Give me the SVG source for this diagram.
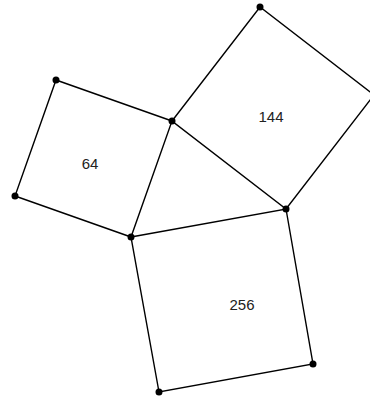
<svg xmlns="http://www.w3.org/2000/svg" width="370" height="398" viewBox="0 0 370 398">
<style>
.sq{fill:none;stroke:#000;stroke-width:1.4}
.pt{fill:#000}
.lbl{font-family:"Liberation Sans",Arial,sans-serif;font-size:15px;fill:#222;text-anchor:middle}
</style>
<rect width="370" height="398" fill="#fff"/>
<g id="square64">
<polygon class="sq" points="172,121 56,80 15,196 131,237"/>
<text class="lbl" x="90" y="169">64</text>
</g>
<g id="square144">
<polygon class="sq" points="172,121 260,7 374,95 286,209"/>
<text class="lbl" x="271" y="122">144</text>
</g>
<g id="square256">
<polygon class="sq" points="131,237 286,209 313,364 159,392"/>
<text class="lbl" x="242" y="310">256</text>
</g>
<g id="connectors">
<circle class="pt" cx="172" cy="121" r="3.5"/>
<circle class="pt" cx="131" cy="237" r="3.5"/>
<circle class="pt" cx="286" cy="209" r="3.5"/>
<circle class="pt" cx="56" cy="80" r="3.5"/>
<circle class="pt" cx="15" cy="196" r="3.5"/>
<circle class="pt" cx="260" cy="7" r="3.5"/>
<circle class="pt" cx="313" cy="364" r="3.5"/>
<circle class="pt" cx="159" cy="392" r="3.5"/>
</g>
</svg>
